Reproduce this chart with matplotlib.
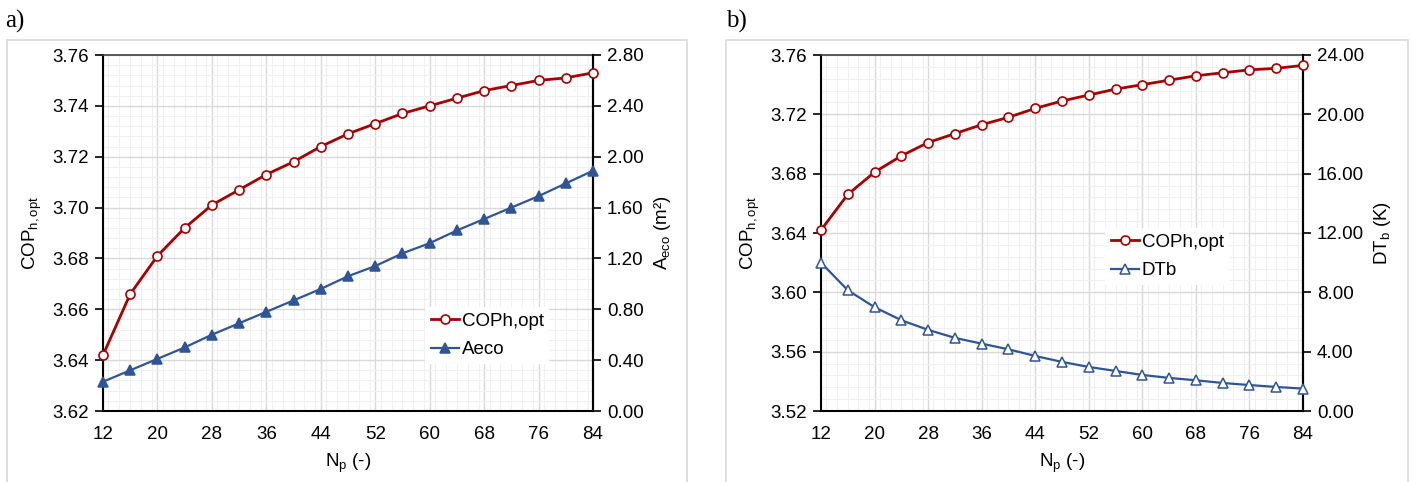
import numpy as np
import matplotlib.pyplot as plt
from matplotlib.ticker import MultipleLocator, FormatStrFormatter
from matplotlib.patches import Rectangle

plt.rcParams['font.family'] = ['Liberation Sans', 'DejaVu Sans']
plt.rcParams['mathtext.fontset'] = 'custom'
plt.rcParams['mathtext.rm'] = 'Liberation Sans'
plt.rcParams['mathtext.it'] = 'Liberation Sans'

# data
n_p = [12, 16, 20, 24, 28, 32, 36, 40, 44, 48, 52, 56, 60, 64, 68, 72, 76, 80, 84]
cop_opt = [3.642, 3.666, 3.681, 3.692, 3.701, 3.707, 3.713, 3.718, 3.724, 3.729,
           3.733, 3.737, 3.740, 3.743, 3.746, 3.748, 3.750, 3.751, 3.753]
a_eco = [0.23, 0.32, 0.41, 0.50, 0.60, 0.69, 0.78, 0.87, 0.96, 1.06,
         1.14, 1.24, 1.32, 1.42, 1.51, 1.60, 1.69, 1.79, 1.89]
dt_b = [10.0, 8.14, 7.00, 6.12, 5.47, 4.93, 4.54, 4.16, 3.71, 3.31,
        2.97, 2.70, 2.43, 2.23, 2.07, 1.89, 1.75, 1.62, 1.51]
x_ticks = [12, 20, 28, 36, 44, 52, 60, 68, 76, 84]

RED = '#a80000'
BLUE = '#2f5597'
FS = 13.5

W, H = 1413, 482
fig = plt.figure(figsize=(W / 100, H / 100), dpi=100)

# light frames around the panels
for x0, x1 in [(7, 687), (726, 1408)]:
    fig.patches.append(Rectangle((x0 / W, -0.1), (x1 - x0) / W, 1.1 - 40 / H,
                                 transform=fig.transFigure, fill=False,
                                 edgecolor='#d9d9d9', linewidth=1.2))

fig.text(5 / W, 1 - 21 / H, 'a)', family='Liberation Serif', fontsize=18, va='center')
fig.text(726 / W, 1 - 21 / H, 'b)', family='Liberation Serif', fontsize=18, va='center')


def panel(rect, ylim, ystep, y2lim, y2step, y2, y2label, y2fill):
    ax = fig.add_axes(rect)
    ax.set_xlim(12, 84)
    ax.set_ylim(*ylim)
    ax.xaxis.set_major_locator(plt.FixedLocator(x_ticks))
    ax.xaxis.set_minor_locator(MultipleLocator(1.6))
    ax.yaxis.set_major_locator(MultipleLocator(ystep))
    ax.yaxis.set_minor_locator(MultipleLocator(ystep / 5))
    ax.yaxis.set_major_formatter(FormatStrFormatter('%.2f'))
    ax.grid(which='major', color='#d9d9d9', linewidth=1.0)
    ax.grid(which='minor', color='#f0f0f0', linewidth=0.8)
    ax.set_axisbelow(True)
    ax.tick_params(axis='x', which='both', length=0, labelsize=FS, pad=11)
    ax.tick_params(axis='y', which='major', length=6, width=1.2, labelsize=FS, pad=4)
    ax.tick_params(axis='y', which='minor', length=0)
    for s in ax.spines.values():
        s.set_linewidth(1.5)
        s.set_color('black')
    ax.spines['top'].set_color('#404040')
    ax.spines['top'].set_linewidth(1.2)
    ax.set_xlabel(r'N$_{\mathrm{p}}$ (-)', fontsize=FS, labelpad=6)
    ax.set_ylabel(r'COP$_{\mathrm{h,opt}}$', fontsize=FS, labelpad=6)

    ax2 = ax.twinx()
    ax2.set_ylim(*y2lim)
    ax2.yaxis.set_major_locator(MultipleLocator(y2step))
    ax2.yaxis.set_major_formatter(FormatStrFormatter('%.2f'))
    ax2.tick_params(axis='y', length=6, width=1.2, labelsize=FS, pad=4)
    for s in ax2.spines.values():
        s.set_visible(False)
    ax2.spines['right'].set_visible(True)
    ax2.spines['right'].set_linewidth(1.5)
    ax2.set_ylabel(y2label, fontsize=FS, labelpad=6)

    # COP is drawn on the twin axes (rescaled) so both series sit under the legend
    l1, = ax2.plot(n_p, [(v - ylim[0]) / (ylim[1] - ylim[0]) * (y2lim[1] - y2lim[0]) + y2lim[0]
                         for v in cop_opt],
                   color=RED, linewidth=2, marker='o', markersize=6.5,
                   markerfacecolor='white', markeredgecolor=RED, markeredgewidth=1.2,
                   clip_on=False, label='COPh,opt', zorder=4)
    l2, = ax2.plot(n_p, y2, color=BLUE, linewidth=1.6, marker='^', markersize=6.5,
                   markerfacecolor=y2fill, markeredgecolor=BLUE, markeredgewidth=1.1,
                   clip_on=False, zorder=3)
    return ax, ax2, l1, l2


ax, ax2, l1, l2 = panel([103 / W, 1 - 411 / H, 490 / W, 356 / H], (3.62, 3.76), 0.02,
                        (0.0, 2.8), 0.4, a_eco, r'A$_{\mathrm{eco}}$ (m²)', BLUE)
l2.set_label('Aeco')
leg = ax2.legend(handles=[l1, l2], loc='upper left',
                 bbox_to_anchor=((425 - 103) / 490, (411 - 307) / 356),
                 frameon=True, fontsize=FS, handlelength=1.5, handletextpad=0.15,
                 borderpad=0.3, labelspacing=0.6, fancybox=False, borderaxespad=0)
leg.get_frame().set_edgecolor('none')
leg.get_frame().set_alpha(1)

bx, bx2, m1, m2 = panel([821 / W, 1 - 411 / H, 482 / W, 356 / H], (3.52, 3.76), 0.04,
                        (0.0, 24.0), 4.0, dt_b, r'DT$_{\mathrm{b}}$ (K)', 'white')
m2.set_label('DTb')
leg2 = bx2.legend(handles=[m1, m2], loc='upper left',
                  bbox_to_anchor=((1105 - 821) / 482, (411 - 228) / 356),
                  frameon=True, fontsize=FS, handlelength=1.5, handletextpad=0.15,
                  borderpad=0.3, labelspacing=0.6, fancybox=False, borderaxespad=0)
leg2.get_frame().set_edgecolor('none')
leg2.get_frame().set_alpha(1)

fig.savefig('out.png', dpi=100)
